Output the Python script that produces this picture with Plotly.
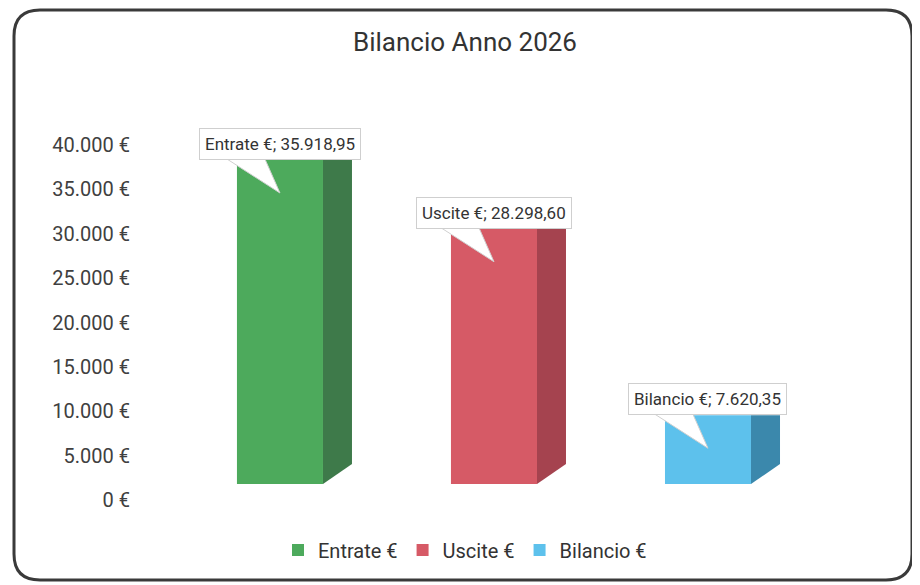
import plotly.graph_objects as go

# ---------------- data ----------------
CATEGORIES = ["Entrate €", "Uscite €", "Bilancio €"]
VALUES = [35918.95, 28298.60, 7620.35]
TICK_VALUES = [0, 5000, 10000, 15000, 20000, 25000, 30000, 35000, 40000]
TICK_LABELS = ["0 €", "5.000 €", "10.000 €", "15.000 €", "20.000 €",
               "25.000 €", "30.000 €", "35.000 €", "40.000 €"]
TITLE = "Bilancio Anno 2026"

FRONT_COLORS = ["#4DAA5C", "#D65A66", "#5DC1EC"]
SIDE_COLORS = ["#3E7A4A", "#A5434F", "#3B88AC"]

# page body adds an 8px margin: work in reference pixels, shift by OFF
OFF = 8
W, H = 912, 577
PL, PR, PT, PB = 140, 870, 100, 510          # plot area in reference pixels
L, R, T, B = PL - OFF, W - (PR - OFF), PT - OFF, H - (PB - OFF)
PW, PH = PR - PL, PB - PT


def px(xr):
    return (xr - PL) / PW


def py(yr):
    return (PB - yr) / PH


def it_fmt(v):
    s = f"{v:,.2f}"
    return s.replace(",", "X").replace(".", ",").replace("X", ".")


HW = 0.201      # half width of bar front (x units)
DEPTH = 0.1355  # depth of side face (x units)
DROP = 2217     # rise of side face bottom edge (y2 units)

fig = go.Figure()

# invisible trace to anchor the tick axis
fig.add_trace(go.Scatter(x=[0], y=[0], mode="markers", marker=dict(opacity=0),
                         showlegend=False, hoverinfo="skip", xaxis="x", yaxis="y"))

for i, (cat, v) in enumerate(zip(CATEGORIES, VALUES)):
    fig.add_trace(go.Bar(x=[i], y=[v], name=cat, width=2 * HW,
                         marker=dict(color=FRONT_COLORS[i], line=dict(width=0)),
                         xaxis="x", yaxis="y2"))
    fig.add_trace(go.Scatter(
        x=[i + HW, i + HW + DEPTH, i + HW + DEPTH, i + HW, i + HW],
        y=[v, v, DROP, 0, v], fill="toself", mode="lines",
        line=dict(width=0, color=SIDE_COLORS[i]), fillcolor=SIDE_COLORS[i],
        showlegend=False, hoverinfo="skip", xaxis="x", yaxis="y2"))

shapes = []
annotations = []
for i, (cat, v) in enumerate(zip(CATEGORIES, VALUES)):
    shapes.append(dict(type="path", xref="x", yref="y2", xsizemode="pixel",
                       ysizemode="pixel", xanchor=i, yanchor=v,
                       path="M -53,1 L -15,1 L 0,-33 Z", fillcolor="white",
                       line=dict(color="#d0d0d0", width=1), layer="above"))
    annotations.append(dict(x=i, y=v, xref="x", yref="y2", showarrow=False,
                            xanchor="center", yanchor="bottom",
                            text=f"{cat}; {it_fmt(v)}",
                            font=dict(family="Roboto", size=17, color="#333333"),
                            bgcolor="white", bordercolor="#cfcfcf", borderwidth=1,
                            borderpad=5))

# rounded frame
x0, y0, x1, y1, r = px(14), py(10), px(912), py(580), 26
rx, ry = r / PW, r / PH
frame = (f"M {x0+rx},{y0} L {x1-rx},{y0} Q {x1},{y0} {x1},{y0-ry} "
         f"L {x1},{y1+ry} Q {x1},{y1} {x1-rx},{y1} L {x0+rx},{y1} "
         f"Q {x0},{y1} {x0},{y1+ry} L {x0},{y0-ry} Q {x0},{y0} {x0+rx},{y0} Z")
shapes.append(dict(type="path", xref="paper", yref="paper", path=frame,
                   line=dict(color="#3a3a3a", width=3), layer="below"))

fig.update_layout(
    width=W, height=H,
    margin=dict(l=L, r=R, t=T, b=B, pad=0),
    paper_bgcolor="white", plot_bgcolor="white",
    barmode="overlay",
    title=dict(text=TITLE, x=(465 - OFF) / W, xanchor="center",
               y=1 - (42 - OFF) / H, yanchor="middle", yref="container",
               font=dict(family="Roboto", size=26, color="#333333")),
    xaxis=dict(range=[-0.654, 2.757], showticklabels=False, showgrid=False,
               zeroline=False, showline=False, ticks=""),
    yaxis=dict(range=[-1126.8, 45070.4], tickvals=TICK_VALUES, ticktext=TICK_LABELS,
               showgrid=False, zeroline=False, showline=False, ticks="",
               ticklabelstandoff=9,
               tickfont=dict(family="Roboto", size=20, color="#404040")),
    yaxis2=dict(range=[-2882, 42572], overlaying="y", visible=False),
    legend=dict(orientation="h", x=px(465), xanchor="center", y=py(550),
                yanchor="middle", font=dict(family="Roboto", size=20, color="#333333"),
                bgcolor="rgba(0,0,0,0)"),
    shapes=shapes,
    annotations=annotations,
    showlegend=True,
)

fig.write_html("out.html")
